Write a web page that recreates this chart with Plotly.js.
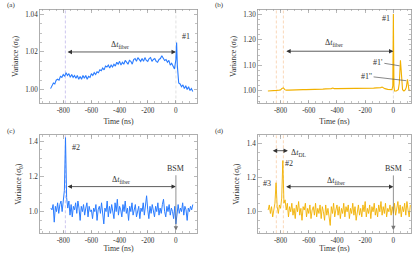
<!DOCTYPE html>
<html><head><meta charset="utf-8">
<script src="https://cdn.plot.ly/plotly-3.0.1.min.js"></script>
<style>html,body{margin:0;padding:0;background:#fff}#g{width:416px;height:253px}</style>
</head><body><div id="g"></div>
<script>
// ---- data ----
const tA = [-890,-880,-870,-860,-850,-840,-830,-820,-810,-800,-790,-780,-770,-760,-750,-740,-730,-720,-710,-700,-690,-680,-670,-660,-650,-640,-630,-620,-610,-600,-590,-580,-570,-560,-550,-540,-530,-520,-510,-500,-490,-480,-470,-460,-450,-440,-430,-420,-410,-400,-390,-380,-370,-360,-350,-340,-330,-320,-310,-300,-290,-280,-270,-260,-250,-240,-230,-220,-210,-200,-190,-180,-170,-160,-150,-140,-130,-120,-110,-100,-90,-80,-70,-60,-50,-40,-30,-20,-10,0,5,10,15,20,30,40,50,60,70,80,90,100,110,120];
const vA = [1.0005,1.002,1.0035,1.003,1.005,1.0055,1.005,1.007,1.0065,1.008,1.007,1.009,1.0075,1.0085,1.0065,1.008,1.0065,1.0075,1.006,1.0075,1.0055,1.007,1.0055,1.0075,1.006,1.0075,1.0055,1.007,1.0065,1.0085,1.0075,1.009,1.008,1.0095,1.009,1.0105,1.010,1.0115,1.0105,1.0125,1.012,1.013,1.0115,1.013,1.012,1.0135,1.0125,1.0145,1.0135,1.015,1.013,1.0145,1.0135,1.0155,1.0145,1.0135,1.0155,1.015,1.0135,1.016,1.0165,1.015,1.017,1.016,1.015,1.0165,1.015,1.017,1.0155,1.015,1.0165,1.017,1.015,1.016,1.0165,1.015,1.0145,1.016,1.0165,1.018,1.017,1.0155,1.016,1.0145,1.0155,1.013,1.014,1.012,1.011,1.016,1.025,1.013,1.005,1.0035,1.003,1.0015,1.0025,1.0005,1.002,1.000,1.0015,0.9995,1.0005,0.999];

const tB = [-890,-870,-850,-830,-810,-800,-790,-780,-770,-760,-740,-720,-700,-680,-660,-640,-620,-600,-580,-560,-540,-520,-500,-480,-460,-440,-430,-420,-400,-380,-360,-340,-320,-300,-280,-260,-240,-220,-200,-180,-160,-140,-120,-100,-90,-80,-70,-60,-40,-20,-10,-4,-2,0,2,4,8,20,35,42,46,50,54,58,65,75,85,92,96,100,104,110,120];
const vB = [1.000,1.000,1.001,1.002,1.003,1.004,1.010,1.012,1.005,1.003,1.003,1.004,1.004,1.004,1.005,1.005,1.005,1.005,1.006,1.006,1.006,1.007,1.007,1.008,1.008,1.009,1.011,1.009,1.009,1.009,1.009,1.009,1.010,1.009,1.010,1.010,1.010,1.011,1.010,1.011,1.011,1.011,1.012,1.012,1.013,1.015,1.011,1.009,1.006,1.004,1.005,1.020,1.150,1.300,1.150,1.020,1.000,1.000,1.005,1.030,1.090,1.120,1.090,1.030,1.005,1.000,1.005,1.015,1.035,1.045,1.030,1.005,1.000];

const tN = [-888,-880,-872,-864,-856,-848,-840,-832,-824,-816,-808,-800,-792,-784,-776,-768,-760,-752,-744,-736,-728,-720,-712,-704,-696,-688,-680,-672,-664,-656,-648,-640,-632,-624,-616,-608,-600,-592,-584,-576,-568,-560,-552,-544,-536,-528,-520,-512,-504,-496,-488,-480,-472,-464,-456,-448,-440,-432,-424,-416,-408,-400,-392,-384,-376,-368,-360,-352,-344,-336,-328,-320,-312,-304,-296,-288,-280,-272,-264,-256,-248,-240,-232,-224,-216,-208,-200,-192,-184,-176,-168,-160,-152,-144,-136,-128,-120,-112,-104,-96,-88,-80,-72,-64,-56,-48,-40,-32,-24,-16,-8,0,8,16,24,32,40,48,56,64,72,80,88,96,104,112,120];
const vC = [1.02,1.01,1.04,0.94,1.03,1.00,1.05,0.99,1.04,1.06,1.00,1.05,1.12,1.42,1.08,1.02,1.06,0.98,1.04,0.97,1.03,1.01,1.05,0.99,1.06,1.02,0.95,1.03,1.00,1.04,0.98,1.02,1.05,0.97,1.03,1.00,1.01,0.96,1.02,1.00,1.04,0.95,1.01,1.03,0.99,1.05,0.98,0.93,1.02,1.00,1.06,0.97,1.03,0.99,1.04,1.01,0.96,1.05,1.00,1.07,0.98,1.03,1.01,0.97,1.04,1.00,1.06,0.99,1.02,0.95,1.03,1.00,1.05,0.98,1.02,1.04,0.97,1.01,1.03,0.96,1.02,1.00,1.05,0.98,1.04,1.09,1.01,0.96,1.03,0.99,1.04,1.01,0.97,1.03,1.00,1.05,0.98,1.02,0.99,1.04,1.07,1.00,0.97,1.03,1.00,1.04,0.98,1.02,1.00,0.96,1.03,0.93,1.01,1.04,0.99,1.02,1.00,1.05,0.98,1.03,1.01,0.95,1.02,1.00,1.03,1.01,1.04];
const vD = [1.01,1.04,0.99,1.03,0.97,1.02,1.05,1.17,1.03,0.99,1.04,1.02,1.08,1.30,1.05,1.07,1.01,1.05,0.97,1.03,1.00,1.05,0.98,1.02,0.96,1.04,1.00,1.06,0.98,1.02,0.95,1.03,1.01,1.05,0.97,1.02,0.99,1.04,0.96,1.01,1.03,0.98,1.05,0.97,1.02,0.99,1.04,0.96,1.03,1.00,0.95,1.04,0.98,1.02,0.97,0.92,1.03,0.99,1.05,0.97,1.01,1.04,0.98,1.03,0.96,1.02,0.99,1.05,0.97,1.03,1.00,1.04,0.96,1.02,0.99,1.05,0.98,1.03,0.95,1.01,1.04,0.98,1.02,0.97,1.04,1.00,1.06,0.97,1.02,0.99,1.04,0.96,1.03,1.00,1.05,0.98,1.02,0.97,1.04,1.00,1.06,0.98,1.03,0.99,1.05,0.97,1.02,1.00,1.04,0.98,1.03,0.99,1.05,0.98,1.02,1.06,0.99,1.04,0.97,1.03,1.00,1.05,0.98,1.06,1.01,0.97,1.04];

const xTicks = [-800,-600,-400,-200,0];
const xTickText = ['-800','-600','-400','-200','0'];

// ---- styling ----
const FONT = 'Liberation Serif, DejaVu Serif, serif';
const BLUE = '#2a7cff', GOLD = '#f2b100';
const FRAME = '#9a9a9a', TXT = '#333';

function xa(dom, anchor, range){
  return {domain:dom, anchor:anchor, range:range, tickvals:xTicks, ticktext:xTickText,
    showline:true, linecolor:FRAME, linewidth:0.8, mirror:'allticks', ticks:'inside', ticklen:3.5, tickwidth:0.7, tickcolor:FRAME,
    minor:{dtick:50, tick0:0, ticks:'inside', ticklen:2, tickwidth:0.6, tickcolor:FRAME},
    showgrid:false, zeroline:false, tickfont:{family:FONT, size:7.2, color:TXT},
    title:{text:'Time (ns)', font:{family:FONT, size:7.8, color:TXT}, standoff:4}};
}
function ya(dom, anchor, range, dtick, fmt, mdt){
  return {domain:dom, anchor:anchor, range:range, dtick:dtick, tick0:1, tickformat:fmt,
    showline:true, linecolor:FRAME, linewidth:0.8, mirror:'allticks', ticks:'inside', ticklen:3.5, tickwidth:0.7, tickcolor:FRAME,
    minor:{dtick:mdt, tick0:1, ticks:'inside', ticklen:2, tickwidth:0.6, tickcolor:FRAME},
    showgrid:false, zeroline:false, tickfont:{family:FONT, size:7.2, color:TXT},
    title:{text:'Variance (<i>σ</i><sub>0</sub>)', font:{family:FONT, size:7.8, color:TXT}, standoff:5}};
}

const L = [0.0962,0.4736], R = [0.6202,0.988], T = [0.591,0.9625], B = [0.078,0.4664];

const traces = [
  {x:tA, y:vA, xaxis:'x', yaxis:'y', mode:'lines', line:{color:BLUE, width:1.1}},
  {x:tB, y:vB, xaxis:'x2', yaxis:'y2', mode:'lines', line:{color:GOLD, width:1.1}},
  {x:tN, y:vC, xaxis:'x3', yaxis:'y3', mode:'lines', line:{color:BLUE, width:1}},
  {x:tN, y:vD, xaxis:'x4', yaxis:'y4', mode:'lines', line:{color:GOLD, width:0.9}}
];

function vline(xr, yr, x, color){
  return {type:'line', xref:xr, yref:yr+' domain', x0:x, x1:x, y0:0, y1:1, line:{color:color, width:0.7, dash:'3px,2px'}, layer:'below'};
}
const VIO = '#b8aee8', ORG = '#f8c79c', GRY = '#d4d4d4';
const shapes = [
  vline('x','y',-785,VIO), vline('x','y',0,GRY),
  vline('x2','y2',-830,ORG), vline('x2','y2',-780,ORG), vline('x2','y2',0,GRY),
  vline('x3','y3',-785,VIO),
  vline('x4','y4',-830,ORG), vline('x4','y4',-780,ORG)
];

function dbl(xr, yr, x0, x1, y){
  return {xref:xr, yref:yr, axref:xr, ayref:yr, x:x1, y:y, ax:x0, ay:y, text:'', showarrow:true,
    arrowside:'end+start', arrowhead:2, arrowsize:1.1, arrowwidth:0.8, arrowcolor:'#333', standoff:0, startstandoff:0};
}
function txt(xr, yr, x, y, t, size){
  return {xref:xr, yref:yr, x:x, y:y, text:t, showarrow:false, font:{family:FONT, size:size||8, color:TXT}};
}
function pointer(xr, yr, hx, hy, tx, ty, t){
  return {xref:xr, yref:yr, axref:xr, ayref:yr, x:hx, y:hy, ax:tx, ay:ty, text:t, showarrow:true, arrowhead:0,
    arrowwidth:0.7, arrowcolor:'#555', font:{family:FONT, size:8, color:TXT}, standoff:0};
}
function bsm(xr, yr, top, bot){
  return {xref:xr, yref:yr, axref:xr, ayref:yr, x:0, y:bot, ax:0, ay:top, text:'', showarrow:true,
    arrowhead:2, arrowsize:1.1, arrowwidth:0.8, arrowcolor:'#777', standoff:0};
}
const FIB = 'Δ<i>t</i><sub>fiber</sub>';
const annotations = [
  {xref:'paper', yref:'paper', x:5/416, y:1-5/253, text:'(a)', showarrow:false, xanchor:'left', yanchor:'middle', font:{family:FONT, size:7, color:TXT}},
  {xref:'paper', yref:'paper', x:213/416, y:1-5/253, text:'(b)', showarrow:false, xanchor:'left', yanchor:'middle', font:{family:FONT, size:7, color:TXT}},
  {xref:'paper', yref:'paper', x:5/416, y:1-131/253, text:'(c)', showarrow:false, xanchor:'left', yanchor:'middle', font:{family:FONT, size:7, color:TXT}},
  {xref:'paper', yref:'paper', x:213/416, y:1-131/253, text:'(d)', showarrow:false, xanchor:'left', yanchor:'middle', font:{family:FONT, size:7, color:TXT}},
  // (a)
  dbl('x','y',-780,0,1.02), txt('x','y',-400,1.0235,FIB), txt('x','y',72,1.028,'#1'),
  // (b)
  dbl('x2','y2',-770,0,1.155), txt('x2','y2',-418,1.187,FIB), txt('x2','y2',-51,1.283,'#1'),
  pointer('x2','y2',44,1.098,-110,1.112,"#1'"), pointer('x2','y2',92,1.040,-190,1.058,"#1''"),
  // (c)
  dbl('x3','y3',-780,0,1.142), txt('x3','y3',-390,1.177,FIB), txt('x3','y3',-712,1.365,'#2'),
  txt('x3','y3',0,1.243,'BSM'), bsm('x3','y3',1.215,0.892),
  // (d)
  dbl('x4','y4',-866,-748,1.358), txt('x4','y4',-675,1.343,'Δ<i>t</i><sub>DL</sub>'),
  txt('x4','y4',-740,1.284,'#2'), txt('x4','y4',-894,1.167,'#3'),
  dbl('x4','y4',-771,0,1.147), txt('x4','y4',-408,1.179,FIB),
  txt('x4','y4',0,1.251,'BSM'), bsm('x4','y4',1.222,0.892)
];

const layout = {
  width:416, height:253, margin:{l:0,r:0,t:0,b:0}, paper_bgcolor:'#fff', plot_bgcolor:'#fff', showlegend:false,
  xaxis: xa(L,'y',[-965,150]), yaxis: ya(T,'x',[0.9926,1.0426],0.02,'.2f',0.005),
  xaxis2: xa(R,'y2',[-960,125]), yaxis2: ya(T,'x2',[0.951,1.318],0.1,'.2f',0.02),
  xaxis3: xa(L,'y3',[-965,150]), yaxis3: ya(B,'x3',[0.877,1.435],0.2,'.1f',0.05),
  xaxis4: xa(R,'y4',[-960,125]), yaxis4: ya(B,'x4',[0.874,1.45],0.2,'.1f',0.05),
  shapes:shapes, annotations:annotations
};
Plotly.newPlot('g', traces, layout, {staticPlot:true, displayModeBar:false});
</script></body></html>
